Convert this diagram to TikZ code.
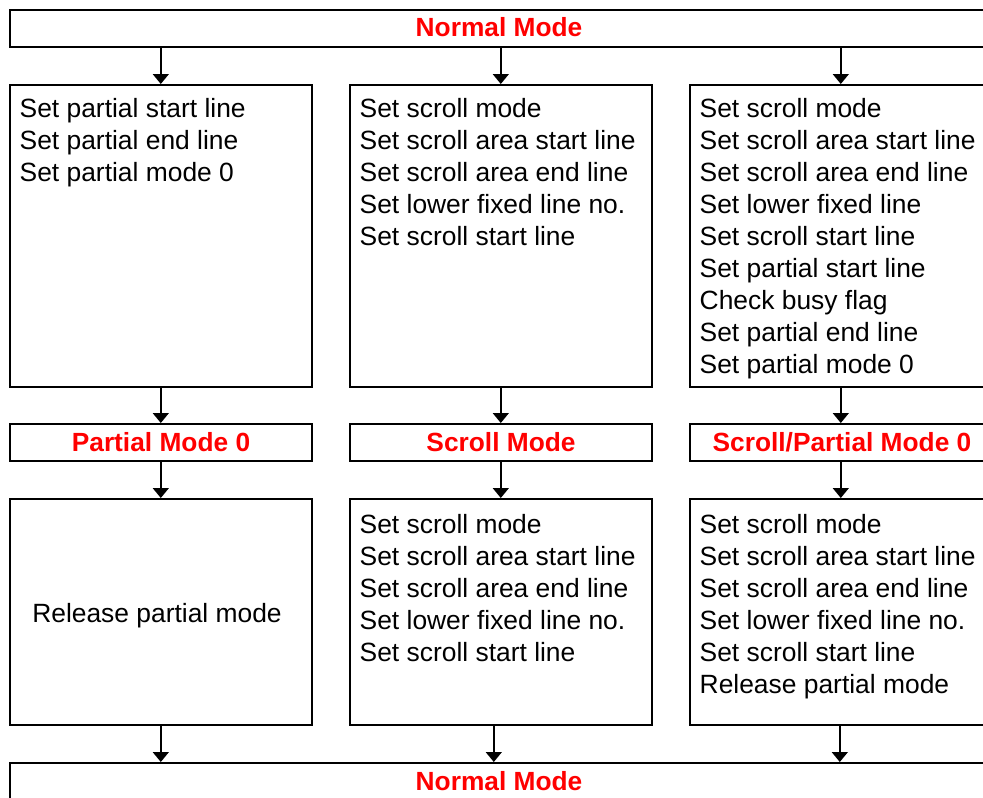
\documentclass[tikz,border=0pt]{standalone}
\usepackage{fontspec}
\setmainfont{Liberation Sans}
\usetikzlibrary{arrows.meta}
\begin{document}
\begin{tikzpicture}[x=1pt,y=-1pt,
  box/.style={draw, line width=1.6pt, rectangle, inner sep=0pt, anchor=north west, minimum width=302pt},
  txt/.style={anchor=base west, inner sep=0pt, font=\fontsize{26.4}{32}\selectfont},
  ttl/.style={anchor=base, inner sep=0pt, font=\fontsize{26.3}{32}\selectfont\bfseries, text=red},
  conn/.style={line width=1.6pt, -{Triangle[width=16pt,length=10pt]}}]
\path[use as bounding box, clip] (0,0) rectangle (983,798);
\fill[white] (0,0) rectangle (983,798);
% boxes
\node[box, minimum width=982pt, minimum height=37pt] (nm1) at (9,9) {};
\node[box, minimum height=302pt] (c1a) at (9,84) {};
\node[box, minimum height=302pt] (c2a) at (349,84) {};
\node[box, minimum height=302pt] (c3a) at (689,84) {};
\node[box, minimum height=37pt] (m1) at (9,423) {};
\node[box, minimum height=37pt] (m2) at (349,423) {};
\node[box, minimum height=37pt] (m3) at (689,423) {};
\node[box, minimum height=226pt] (c1b) at (9,498) {};
\node[box, minimum height=226pt] (c2b) at (349,498) {};
\node[box, minimum height=226pt] (c3b) at (689,498) {};
\node[box, minimum width=982pt, minimum height=40pt] (nm2) at (9,762) {};
% titles
\node[ttl] (nm1t) at (499,36) {Normal Mode};
\node[ttl] (m1t) at (161,451) {Partial Mode 0};
\node[ttl] (m2t) at (501,451) {Scroll Mode};
\node[ttl] (m3t) at (842,451) {Scroll/Partial Mode 0};
\node[ttl] (nm2t) at (499,790) {Normal Mode};
% texts
\foreach [count=\i] \t in {Set partial start line, Set partial end line, Set partial mode 0}
  \node[txt] (t1a-\i) at (19.5,{117+32.1*(\i-1)}) {\t};
\foreach [count=\i] \t in {Set scroll mode, Set scroll area start line, Set scroll area end line, Set lower fixed line no., Set scroll start line}
  \node[txt] (t2a-\i) at (359.5,{117+32.1*(\i-1)}) {\t};
\foreach [count=\i] \t in {Set scroll mode, Set scroll area start line, Set scroll area end line, Set lower fixed line, Set scroll start line, Set partial start line, Check busy flag, Set partial end line, Set partial mode 0}
  \node[txt] (t3a-\i) at (699.5,{117+32.1*(\i-1)}) {\t};
\node[txt, anchor=base] (t1b) at (157,622) {Release partial mode};
\foreach [count=\i] \t in {Set scroll mode, Set scroll area start line, Set scroll area end line, Set lower fixed line no., Set scroll start line}
  \node[txt] (t2b-\i) at (359.5,{533+32.1*(\i-1)}) {\t};
\foreach [count=\i] \t in {Set scroll mode, Set scroll area start line, Set scroll area end line, Set lower fixed line no., Set scroll start line, Release partial mode}
  \node[txt] (t3b-\i) at (699.5,{533+32.1*(\i-1)}) {\t};
% connectors
\draw[conn] (nm1.south -| c1a.north) -- (c1a.north);
\draw[conn] (nm1.south -| c2a.north) -- (c2a.north);
\draw[conn] (nm1.south -| c3a.north) -- (c3a.north);
\draw[conn] (c1a.south) -- (m1.north);
\draw[conn] (c2a.south) -- (m2.north);
\draw[conn] (c3a.south) -- (m3.north);
\draw[conn] (m1.south) -- (c1b.north);
\draw[conn] (m2.south) -- (c2b.north);
\draw[conn] (m3.south) -- (c3b.north);
\coordinate (b2) at ([xshift=-7pt]c2b.south);
\coordinate (b3) at ([xshift=-1pt]c3b.south);
\draw[conn] (c1b.south) -- (c1b.south |- nm2.north);
\draw[conn] (b2) -- (b2 |- nm2.north);
\draw[conn] (b3) -- (b3 |- nm2.north);
\end{tikzpicture}
\end{document}
